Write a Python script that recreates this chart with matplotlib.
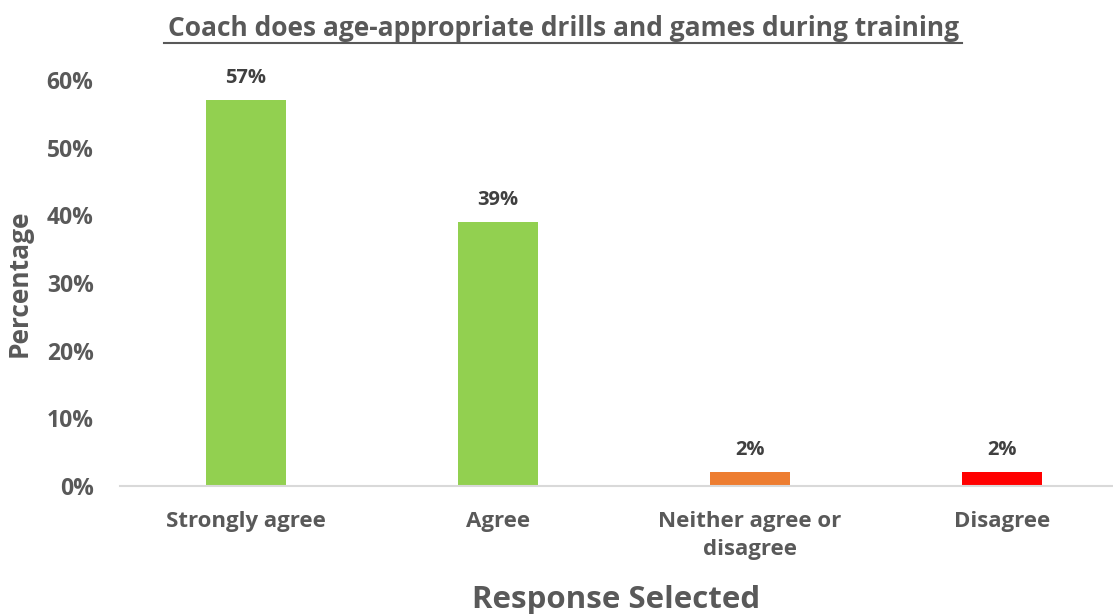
import matplotlib.pyplot as plt
from matplotlib.ticker import PercentFormatter

plt.rcParams['font.family'] = ['Open Sans', 'DejaVu Sans']
plt.rcParams['font.weight'] = 'bold'

categories = ['Strongly agree', 'Agree', 'Neither agree or\ndisagree', 'Disagree']
values = [57, 39, 2, 2]
colors = ['#92D050', '#92D050', '#ED7D31', '#FF0000']
yticks = [0, 10, 20, 30, 40, 50, 60]

W, H = 1113, 614
fig = plt.figure(figsize=(W / 100, H / 100), dpi=100)
ax = fig.add_axes([120 / W, 1 - 486 / H, (W - 120) / W, (486 - 80) / H])

x = range(len(categories))
bars = ax.bar(x, values, width=0.32, color=colors)
for b, v in zip(bars, values):
    ax.annotate(f'{v}%', (b.get_x() + b.get_width() / 2, v), xytext=(0, 9),
                textcoords='offset points', ha='center', va='bottom',
                fontsize=14.5, fontweight='bold', color='#404040')

ax.set_xlim(-0.5, 3.44)
ax.set_ylim(0, 60)
ax.set_yticks(yticks)
ax.yaxis.set_major_formatter(PercentFormatter(decimals=0))
ax.set_xticks(list(x))
ax.set_xticklabels(categories, linespacing=1.45)
ax.tick_params(axis='x', length=0, labelsize=16, colors='#595959', pad=18)
ax.tick_params(axis='y', length=0, labelsize=16.5, colors='#595959', pad=19)
for lab in ax.get_xticklabels() + ax.get_yticklabels():
    lab.set_fontweight('bold')

for s in ['top', 'right', 'left']:
    ax.spines[s].set_visible(False)
ax.spines['bottom'].set_color('#D9D9D9')
ax.spines['bottom'].set_linewidth(1.5)

ax.set_ylabel('Percentage', fontsize=19, fontweight='bold', color='#595959', labelpad=10)
ax.set_xlabel('Response Selected', fontsize=22.5, fontweight='bold', color='#595959', labelpad=18)

fig.text(563 / W, 1 - 28 / H, 'Coach does age-appropriate drills and games during training',
         ha='center', va='center', fontsize=19, fontweight='bold', color='#595959')
fig.add_artist(plt.Line2D([164 / W, 962 / W], [1 - 43 / H, 1 - 43 / H],
                          color='#595959', linewidth=1.5))

fig.savefig('out.png', dpi=100)
